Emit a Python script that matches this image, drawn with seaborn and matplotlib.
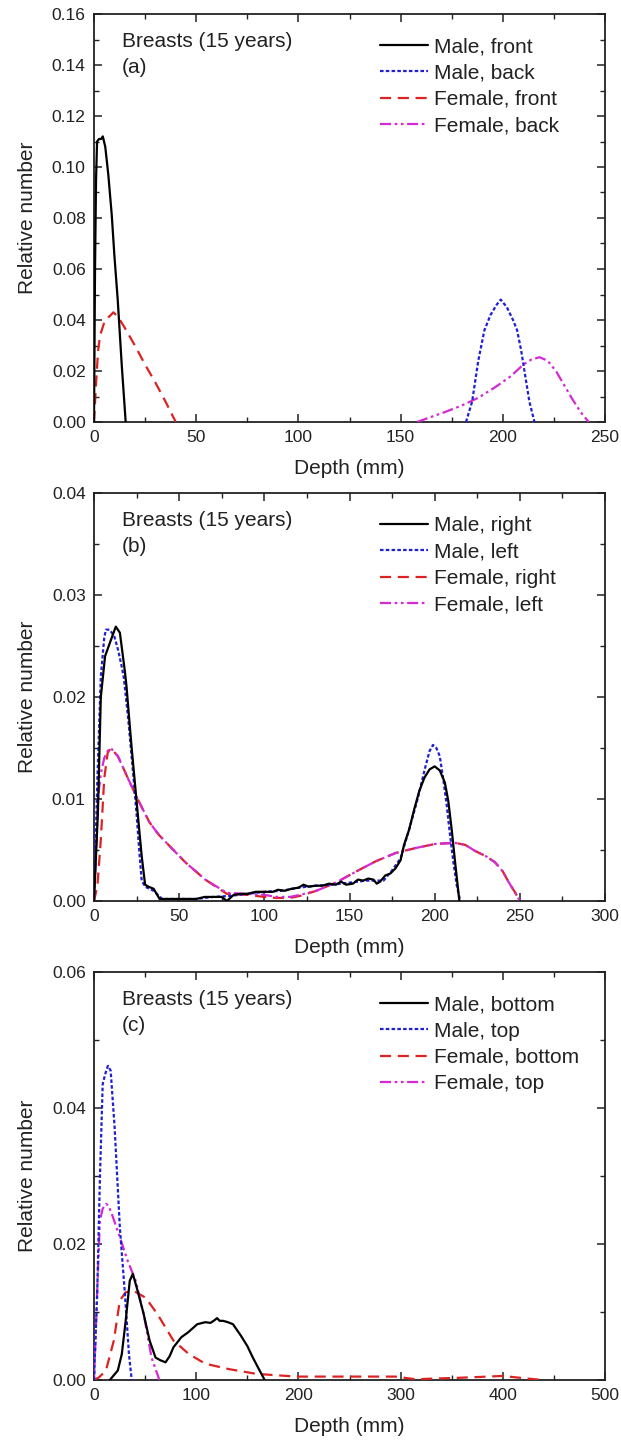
import numpy as np
import pandas as pd
import matplotlib
matplotlib.use("Agg")
import matplotlib.pyplot as plt
from matplotlib.ticker import MultipleLocator, FormatStrFormatter
import seaborn as sns

# ---------------- Panel (a): front / back ----------------
a_male_front_x = [0, 0.5, 1, 1.5, 2.5, 3.5, 4.3, 5.5, 7, 8.7, 10, 11.6, 13.6, 15.5]
a_male_front_y = [0, 0.060, 0.095, 0.110, 0.111, 0.111, 0.112, 0.108, 0.097, 0.081,
                  0.065, 0.048, 0.022, 0]
a_male_back_x = [182, 185, 188, 191, 194, 197, 199, 202, 205, 207, 209, 211, 213, 215.5]
a_male_back_y = [0, 0.008, 0.024, 0.036, 0.042, 0.046, 0.048, 0.045, 0.040, 0.036,
                 0.028, 0.018, 0.008, 0]
a_female_front_x = [0, 1, 2, 3, 5, 7, 9.5, 12, 15, 20, 25, 30, 35, 40]
a_female_front_y = [0, 0.015, 0.028, 0.034, 0.039, 0.041, 0.043, 0.041, 0.037, 0.030,
                    0.0225, 0.0155, 0.008, 0]
a_female_back_x = [158, 165, 172, 180, 188, 196, 204, 210, 214, 218, 222, 226, 230,
                   234, 238, 242]
a_female_back_y = [0, 0.002, 0.004, 0.0065, 0.0095, 0.0135, 0.018, 0.0225, 0.0245,
                   0.0254, 0.024, 0.020, 0.0145, 0.009, 0.004, 0]

# ---------------- Panel (b): right / left ----------------
b_male_right_x = [0, 2.3, 4, 6.5, 9.3, 12.8, 15.2, 18.2, 19.1, 22, 25.6, 28, 30, 32, 35,
                  38.5, 45, 55, 60, 65, 70, 75, 78, 82, 86, 90, 95, 100, 105, 108, 112,
                  116, 120, 123, 126, 130, 134, 138, 142, 145, 148, 152, 155, 158, 161,
                  164, 166, 168, 171, 174, 177, 180, 182, 185, 188, 191, 194, 197, 200,
                  203, 206, 208, 210, 212, 214.5]
b_male_right_y = [0, 0.0087, 0.0200, 0.0240, 0.0253, 0.0269, 0.0263, 0.0224, 0.0210,
                  0.0152, 0.0087, 0.0044, 0.0016, 0.0014, 0.0012, 0.0002, 0.0002,
                  0.0002, 0.0002, 0.0004, 0.0004, 0.0004, 0.0, 0.0006, 0.0007, 0.0007,
                  0.0009, 0.0009, 0.0009, 0.0011, 0.0010, 0.0012, 0.0013, 0.0016,
                  0.0014, 0.0015, 0.0015, 0.0017, 0.0016, 0.0019, 0.0016, 0.0017,
                  0.0021, 0.0020, 0.0022, 0.0021, 0.0017, 0.0019, 0.0025, 0.0027,
                  0.0032, 0.0040, 0.0055, 0.0070, 0.0090, 0.0108, 0.0121, 0.0129,
                  0.0132, 0.0128, 0.0116, 0.0098, 0.0070, 0.0038, 0.0]
b_male_left_x = [0, 2, 4, 6, 7, 9, 10.5, 12, 14, 16, 17.5, 20, 23.3, 25, 26.8, 28, 30,
                 35, 40, 50, 60, 70, 80, 90, 100, 110, 120, 130, 140, 150, 160, 170,
                 175, 180, 185, 190, 194, 197, 199, 201, 203, 205, 207, 209, 211, 213,
                 215]
b_male_left_y = [0, 0.0120, 0.0220, 0.0258, 0.0266, 0.0266, 0.0263, 0.0259, 0.0247,
                 0.0232, 0.0219, 0.0180, 0.0119, 0.0085, 0.0044, 0.0020, 0.0014,
                 0.0010, 0.0002, 0.0002, 0.0002, 0.0004, 0.0005, 0.0007, 0.0009,
                 0.0010, 0.0013, 0.0015, 0.0016, 0.0018, 0.0020, 0.0020, 0.0030,
                 0.0042, 0.0070, 0.0100, 0.0128, 0.0147, 0.0153, 0.0150, 0.0142,
                 0.0120, 0.0095, 0.0065, 0.0038, 0.0015, 0.0]
b_female_right_x = [0, 2, 4, 6, 8, 9.8, 14, 20, 25.6, 32.6, 38, 44.3, 53.6, 65.3, 78,
                    90, 100, 107, 115, 121, 130.5, 142, 154, 165.5, 177, 189, 200.5,
                    212, 218, 223.8, 230, 235.4, 240, 243.6, 247, 250]
b_female_right_y = [0, 0.0015, 0.0060, 0.0120, 0.0145, 0.0150, 0.0142, 0.0120, 0.0100,
                    0.0077, 0.0065, 0.0054, 0.0038, 0.0021, 0.0007, 0.0006, 0.0004,
                    0.0003, 0.0003, 0.0005, 0.0010, 0.0018, 0.0029, 0.0039, 0.0047,
                    0.0052, 0.0056, 0.0057, 0.0055, 0.0049, 0.0044, 0.0038, 0.0029,
                    0.0018, 0.0009, 0]
b_female_left_x = [0, 1.5, 2.3, 4, 6, 8, 9.8, 14, 20, 25.6, 32.6, 38, 44.3, 53.6, 65.3,
                   78, 90, 100, 107, 115, 121, 130.5, 142, 154, 165.5, 177, 189, 200.5,
                   212, 218, 223.8, 230, 235.4, 240, 243.6, 247, 250]
b_female_left_y = [0, 0.0060, 0.0100, 0.0125, 0.0140, 0.0147, 0.0150, 0.0142, 0.0120,
                   0.0100, 0.0077, 0.0065, 0.0054, 0.0038, 0.0021, 0.0008, 0.0007,
                   0.0006, 0.0004, 0.0004, 0.0006, 0.0010, 0.0018, 0.0029, 0.0039,
                   0.0047, 0.0052, 0.0056, 0.0057, 0.0055, 0.0049, 0.0044, 0.0038,
                   0.0029, 0.0018, 0.0009, 0]

# ---------------- Panel (c): bottom / top ----------------
c_male_bottom_x = [15.5, 23.3, 27.2, 31, 35, 38, 42.7, 48.6, 54.4, 60.2, 65, 70, 74,
                   77.7, 85.5, 92, 101, 108.8, 114, 118, 120.4, 123, 126.3, 131, 136,
                   143.8, 150, 155.4, 161, 167]
c_male_bottom_y = [0, 0.0014, 0.0038, 0.0087, 0.0146, 0.0156, 0.0131, 0.0097, 0.0058,
                   0.0033, 0.0029, 0.0026, 0.0035, 0.0048, 0.0063, 0.0070, 0.0082,
                   0.0085, 0.0084, 0.0088, 0.0091, 0.0087, 0.0087, 0.0085, 0.0082,
                   0.0065, 0.0050, 0.0033, 0.0017, 0]
c_male_top_x = [0, 3.1, 5.8, 8.5, 11, 13.6, 16.3, 20.2, 25.3, 30.3, 34.2, 36.9]
c_male_top_y = [0, 0.0126, 0.0298, 0.0435, 0.0450, 0.0462, 0.0455, 0.0371, 0.0224,
                0.0126, 0.0038, 0]
c_female_bottom_x = [0, 5, 11.7, 19.4, 25.3, 31, 38.9, 50.5, 62, 77.7, 93, 108.8, 132,
                     159, 198, 250, 295, 315, 330, 353.6, 385, 400, 412, 425, 439]
c_female_bottom_y = [0, 0.0004, 0.0014, 0.0058, 0.0117, 0.0129, 0.0131, 0.0121, 0.0097,
                     0.0058, 0.0038, 0.0024, 0.0016, 0.0009, 0.0005, 0.0005, 0.0005,
                     0.0001, 0.0002, 0.0003, 0.0005, 0.0006, 0.0004, 0.0002, 0]
c_female_top_x = [0, 3, 5.8, 8.5, 11.7, 14, 17.5, 25.3, 33, 40.8, 48.6, 56.3, 64]
c_female_top_y = [0, 0.0126, 0.0234, 0.0252, 0.0259, 0.0257, 0.0244, 0.0210, 0.0175,
                  0.0146, 0.0097, 0.0033, 0]

panels = [
    dict(tag="(a)", xmax=250, ymax=0.16, xmaj=50, xmin=25, ymaj=0.02, ymin=0.01,
         series=[("Male, front", a_male_front_x, a_male_front_y),
                 ("Male, back", a_male_back_x, a_male_back_y),
                 ("Female, front", a_female_front_x, a_female_front_y),
                 ("Female, back", a_female_back_x, a_female_back_y)]),
    dict(tag="(b)", xmax=300, ymax=0.04, xmaj=50, xmin=25, ymaj=0.01, ymin=0.005,
         series=[("Male, right", b_male_right_x, b_male_right_y),
                 ("Male, left", b_male_left_x, b_male_left_y),
                 ("Female, right", b_female_right_x, b_female_right_y),
                 ("Female, left", b_female_left_x, b_female_left_y)]),
    dict(tag="(c)", xmax=500, ymax=0.06, xmaj=100, xmin=50, ymaj=0.02, ymin=0.01,
         series=[("Male, bottom", c_male_bottom_x, c_male_bottom_y),
                 ("Male, top", c_male_top_x, c_male_top_y),
                 ("Female, bottom", c_female_bottom_x, c_female_bottom_y),
                 ("Female, top", c_female_top_x, c_female_top_y)]),
]

# line appearance for the four series of every panel
styles = [
    dict(color="black", linestyle="-", zorder=5),
    dict(color="#1f1fd6", linestyle=(0, (1.6, 1.0)), zorder=4),
    dict(color="#dd2222", linestyle=(0, (5, 3)), zorder=3),
    dict(color="#d42ad4", linestyle=(0, (5, 1.6, 1.2, 1.6, 1.2, 1.6)), zorder=3),
]

sns.set_style("ticks")
plt.rcParams["font.family"] = ["Liberation Sans", "DejaVu Sans"]
plt.rcParams["axes.edgecolor"] = "#222222"
plt.rcParams["axes.linewidth"] = 1.3

TXT = "#222222"
W, H = 621, 1441
fig = plt.figure(figsize=(W / 100, H / 100), dpi=100)

left, right = 94, 605
tops = [14, 493, 972]
ax_h = 408

for p, top in zip(panels, tops):
    ax = fig.add_axes([left / W, 1 - (top + ax_h) / H, (right - left) / W, ax_h / H])
    for (label, xs, ys), st in zip(p["series"], styles):
        df = pd.DataFrame({"Depth": xs, "Rel": ys})
        sns.lineplot(data=df, x="Depth", y="Rel", ax=ax, estimator=None, sort=False,
                     color=st["color"], linestyle=st["linestyle"], lw=1.6,
                     zorder=st["zorder"], label=label)
    ax.set_xlim(0, p["xmax"])
    ax.set_ylim(0, p["ymax"])
    ax.xaxis.set_major_locator(MultipleLocator(p["xmaj"]))
    ax.xaxis.set_minor_locator(MultipleLocator(p["xmin"]))
    ax.yaxis.set_major_locator(MultipleLocator(p["ymaj"]))
    ax.yaxis.set_minor_locator(MultipleLocator(p["ymin"]))
    ax.yaxis.set_major_formatter(FormatStrFormatter("%.2f"))
    ax.tick_params(which="both", direction="in", top=True, right=True,
                   color=TXT, labelsize=12.5, labelcolor=TXT)
    ax.tick_params(which="major", length=6, width=1.1, pad=6)
    ax.tick_params(which="minor", length=3.5, width=1.0)
    ax.set_xlabel("Depth (mm)", fontsize=15, color=TXT, labelpad=10)
    ax.set_ylabel("Relative number", fontsize=15, color=TXT, labelpad=11)
    ax.text(0.055, 0.955, "Breasts (15 years)\n" + p["tag"], transform=ax.transAxes,
            ha="left", va="top", fontsize=15, color=TXT, linespacing=1.45)
    ax.legend(loc="upper left", bbox_to_anchor=(0.56, 0.943), frameon=False,
              fontsize=15, handlelength=2.3, handletextpad=0.3, labelspacing=0.35,
              borderaxespad=0, borderpad=0)
    for t in ax.get_legend().get_texts():
        t.set_color(TXT)

fig.savefig("out.png", dpi=100)
